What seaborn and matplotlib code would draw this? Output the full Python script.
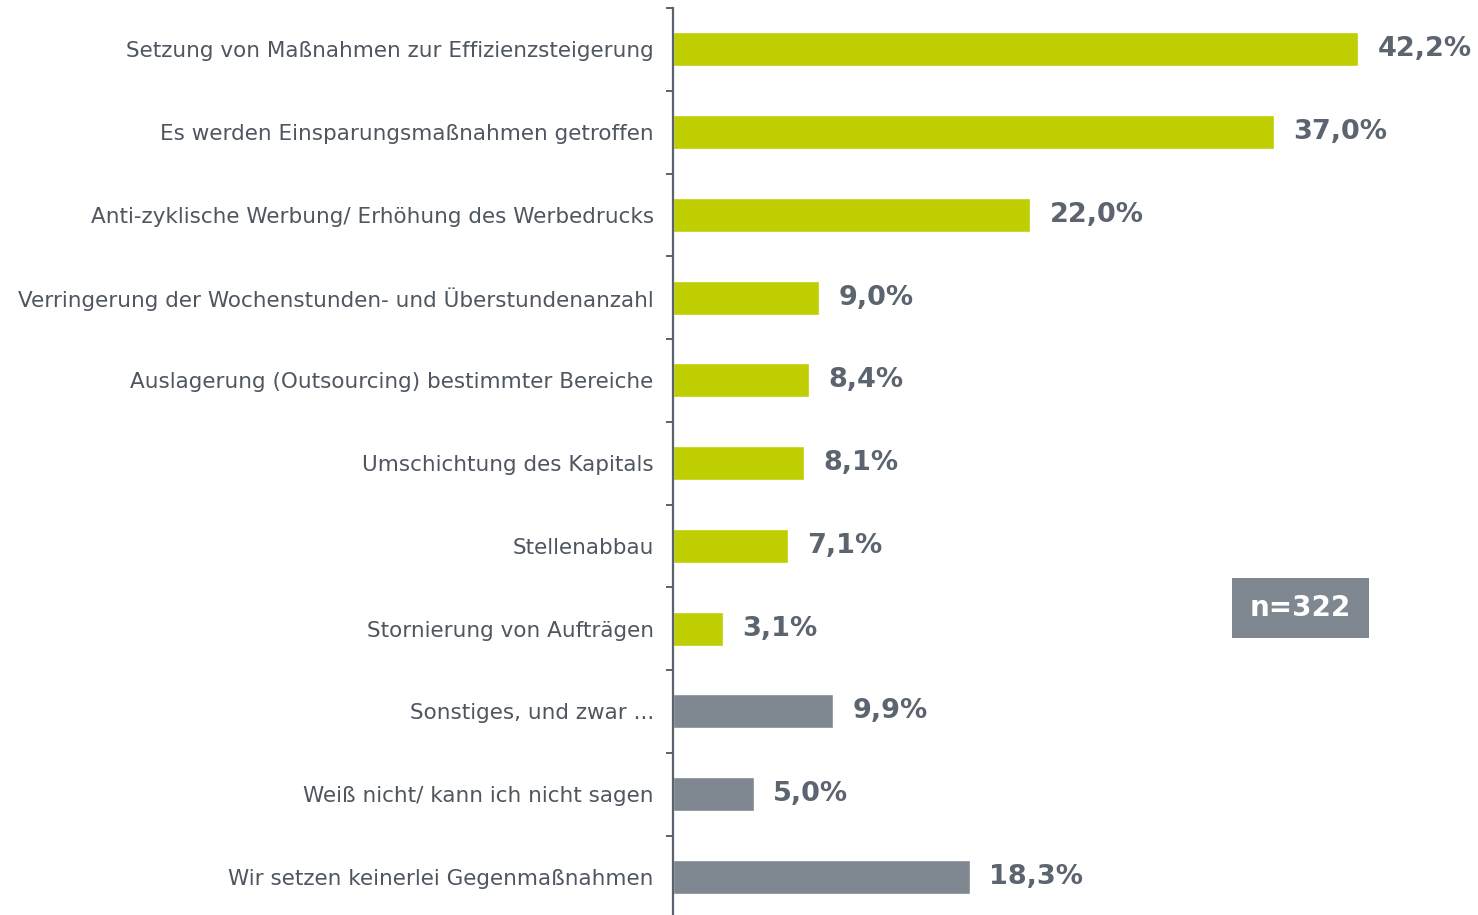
import matplotlib
matplotlib.use("Agg")
import matplotlib.pyplot as plt
import seaborn as sns
import pandas as pd
from matplotlib.patches import Rectangle
from matplotlib.ticker import FixedLocator

categories = [
    "Setzung von Maßnahmen zur Effizienzsteigerung",
    "Es werden Einsparungsmaßnahmen getroffen",
    "Anti-zyklische Werbung/ Erhöhung des Werbedrucks",
    "Verringerung der Wochenstunden- und Überstundenanzahl",
    "Auslagerung (Outsourcing) bestimmter Bereiche",
    "Umschichtung des Kapitals",
    "Stellenabbau",
    "Stornierung von Aufträgen",
    "Sonstiges, und zwar ...",
    "Weiß nicht/ kann ich nicht sagen",
    "Wir setzen keinerlei Gegenmaßnahmen",
]
values = [42.2, 37.0, 22.0, 9.0, 8.4, 8.1, 7.1, 3.1, 9.9, 5.0, 18.3]
groups = ["massnahme"] * 8 + ["sonstige"] * 3
value_labels = ["42,2%", "37,0%", "22,0%", "9,0%", "8,4%", "8,1%", "7,1%",
                "3,1%", "9,9%", "5,0%", "18,3%"]
sample_note = "n=322"

green = "#BFCE00"
grey = "#7F8790"
label_col = "#4F5660"
value_col = "#5C6470"

df = pd.DataFrame({"cat": categories, "val": values, "grp": groups})

sns.set_theme(style="white")
plt.rcParams["font.family"] = ["DejaVu Sans"]

fig = plt.figure(figsize=(14.78, 9.15), dpi=100)
# axes: left edge at the vertical axis line, 1 % ~ 16.25 px, rows ~82.65 px
ax = fig.add_axes([672.5 / 1478, (915 - 922.5) / 915, 780 / 1478, 914.5 / 915])

sns.barplot(data=df, x="val", y="cat", hue="grp", palette={"massnahme": green, "sonstige": grey},
            dodge=False, width=0.41, legend=False, ax=ax, saturation=1)

ax.set_xlim(0, 48)
ax.set_ylim(10.55, -0.5)

for s in ["top", "right", "bottom"]:
    ax.spines[s].set_visible(False)
ax.spines["left"].set_color("#5A626C")
ax.spines["left"].set_linewidth(1.6)

ax.set_xticks([])
ax.set_xlabel("")
ax.set_ylabel("")
ax.tick_params(axis="y", which="major", length=0, pad=13.5, labelsize=15.5, labelcolor=label_col)
ax.yaxis.set_minor_locator(FixedLocator([i - 0.5 for i in range(len(categories) + 1)]))
ax.tick_params(axis="y", which="minor", length=5, width=1.4, color="#5A626C", left=True)

for i, (v, lab) in enumerate(zip(values, value_labels)):
    ax.annotate(lab, xy=(v, i), xytext=(14, 0), textcoords="offset points",
                ha="left", va="center", fontsize=19.5, fontweight="bold",
                color=value_col, clip_on=False)

# sample size box
fig.patches.append(Rectangle((1232 / 1478, 1 - 638 / 915), 137 / 1478, 60 / 915,
                             transform=fig.transFigure, facecolor=grey, edgecolor="none"))
fig.text(1300.5 / 1478, 1 - 608 / 915, sample_note, ha="center", va="center",
         fontsize=20, fontweight="bold", color="white")

fig.savefig("out.png", dpi=100)
